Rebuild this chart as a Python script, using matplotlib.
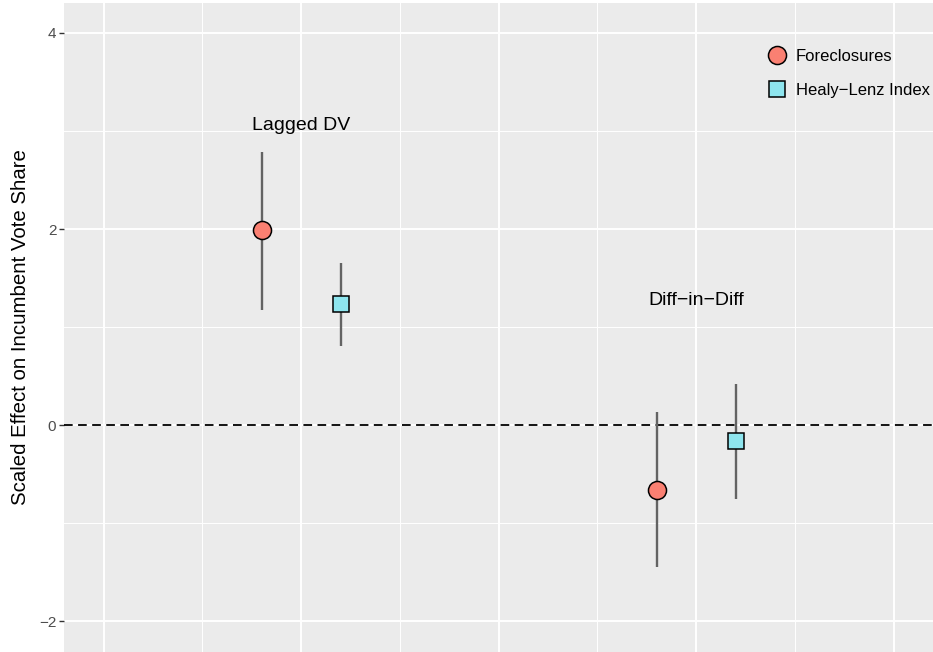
import matplotlib
matplotlib.use("Agg")
import matplotlib.pyplot as plt
from matplotlib.lines import Line2D
from matplotlib.ticker import FixedLocator

plt.rcParams['font.family'] = ['Liberation Sans', 'DejaVu Sans']

# estimates with intervals
models = ["Lagged DV", "Diff\u2212in\u2212Diff"]
series = ["Foreclosures", "Healy\u2212Lenz Index"]
x_fc = [1.8, 3.8]
x_hl = [2.2, 4.2]
est_fc = [1.99, -0.66]
lo_fc = [1.17, -1.45]
hi_fc = [2.79, 0.13]
est_hl = [1.23, -0.16]
lo_hl = [0.81, -0.75]
hi_hl = [1.65, 0.42]
label_x = [2.0, 4.0]
label_y = [3.01, 1.22]

y_major = [-2, 0, 2, 4]
y_minor = [-1, 1, 3]
x_major = [1, 2, 3, 4, 5]
x_minor = [1.5, 2.5, 3.5, 4.5]

fig = plt.figure(figsize=(9.33, 6.52), dpi=100)
ax = fig.add_axes([64 / 933, 0, 869 / 933, 649 / 652])
ax.set_facecolor("#EBEBEB")
for s in ax.spines.values():
    s.set_visible(False)

ax.set_xlim(0.8, 5.2)
ax.set_ylim(-2.316, 4.306)

ax.yaxis.set_major_locator(FixedLocator(y_major))
ax.yaxis.set_minor_locator(FixedLocator(y_minor))
ax.xaxis.set_major_locator(FixedLocator(x_major))
ax.xaxis.set_minor_locator(FixedLocator(x_minor))
ax.grid(which="major", color="white", lw=1.4)
ax.grid(which="minor", color="white", lw=0.7)
ax.set_axisbelow(True)

ax.tick_params(axis="x", which="both", length=0, labelbottom=False)
ax.tick_params(axis="y", which="minor", length=0)
ax.tick_params(axis="y", which="major", length=3.5, width=1, color="#333333",
               labelsize=11, labelcolor="#4D4D4D", pad=2)

ax.axhline(0, color="black", lw=1.3, ls=(0, (4.8, 3.0)), zorder=2)

ax.vlines(x_fc, lo_fc, hi_fc, color="#636363", lw=1.7, zorder=3)
ax.vlines(x_hl, lo_hl, hi_hl, color="#636363", lw=1.7, zorder=3)
ax.plot(x_fc, est_fc, ls="none", marker="o", ms=13, mfc="#FA8072",
        mec="black", mew=1.1, zorder=4)
ax.plot(x_hl, est_hl, ls="none", marker="s", ms=11.5, mfc="#8EE5EE",
        mec="black", mew=1.1, zorder=4)

for name, tx, ty in zip(models, label_x, label_y):
    ax.text(tx, ty, name, ha="center", va="baseline", fontsize=14)

ax.set_ylabel("Scaled Effect on Incumbent Vote Share", fontsize=14.7)
ax.yaxis.set_label_coords(-0.039, 0.5)

handles = [
    Line2D([], [], ls="none", marker="o", ms=13, mfc="#FA8072", mec="black", mew=1.1),
    Line2D([], [], ls="none", marker="s", ms=11.5, mfc="#8EE5EE", mec="black", mew=1.1),
]
ax.legend(handles, series, loc="upper right", bbox_to_anchor=(1.0, 0.934),
          frameon=False, fontsize=12, handletextpad=0.4, labelspacing=1.1,
          borderaxespad=0, borderpad=0.2, handlelength=1.5)

fig.savefig("out.png", dpi=100)
